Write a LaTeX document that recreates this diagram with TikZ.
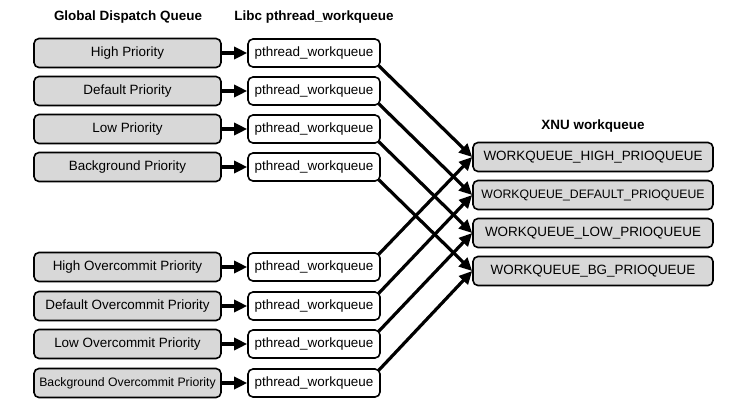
\documentclass[tikz,border=0pt]{standalone}
\usepackage{fontspec}
\setmainfont{Liberation Sans}
\usetikzlibrary{arrows.meta}
\definecolor{boxgrey}{HTML}{D8D8D8}
\newcommand{\narrowtxt}{\fontsize{12.3}{14}\selectfont}
\tikzset{
	qbox/.style={draw, line width=1.6bp, rounded corners=5bp, inner sep=0pt, minimum height=29bp, font=\fontsize{13.5}{16}\selectfont},
	gdqbox/.style={qbox, fill=boxgrey, minimum width=187bp},
	pwqbox/.style={qbox, fill=white, minimum width=132bp, minimum height=28bp},
	xnubox/.style={qbox, fill=boxgrey, minimum width=240bp},
	head/.style={font=\fontsize{13.5}{16}\selectfont\bfseries},
	feed/.style={line width=3.2bp, -{Triangle[length=13bp,width=12bp]}}
}
\begin{document}
\begin{tikzpicture}[x=1bp,y=-1bp]
			\useasboundingbox (0,0) rectangle (737,407);
			\node[head] (gdqhead) at (128,17){Global Dispatch Queue};
			\node[head] (libchead) at (314,17){Libc pthread\_workqueue};
			\node[head] (xnuhead) at (593,126){XNU workqueue};
			\foreach \n/\y/\txt in {1/53/High Priority, 2/91/Default Priority, 3/129/Low Priority, 4/167/Background Priority,
				5/267/High Overcommit Priority, 6/306/Default Overcommit Priority, 7/344/Low Overcommit Priority, 8/383/{\narrowtxt Background Overcommit Priority}}{
				\node[gdqbox] (gdq\n) at (127.5,\y){\txt};
				\node[pwqbox] (pwq\n) at (314,\y){pthread\_workqueue};
				\draw[feed] (gdq\n) -- (pwq\n);
			}
			\foreach \n/\y/\txt in {1/157/WORKQUEUE\_HIGH\_PRIOQUEUE, 2/195/{\narrowtxt WORKQUEUE\_DEFAULT\_PRIOQUEUE}, 3/233/WORKQUEUE\_LOW\_PRIOQUEUE, 4/271/WORKQUEUE\_BG\_PRIOQUEUE}{
				\node[xnubox] (xnu\n) at (593,\y){\txt};
			}
			\foreach \n in {1,2,3,4}{
				\pgfmathtruncatemacro\m{\n+4}
				\draw[feed] ([xshift=-2bp,yshift=2bp]pwq\n.south east) -- (xnu\n.west);
				\draw[feed] ([xshift=-2bp,yshift=-2bp]pwq\m.north east) -- (xnu\n.west);
			}
		\end{tikzpicture}
\end{document}
